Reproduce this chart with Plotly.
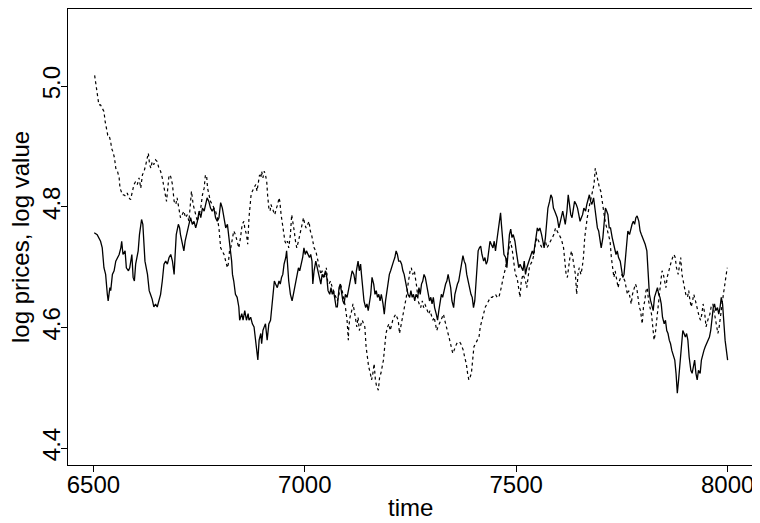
import plotly.graph_objects as go

# solid line: log prices
price_time = [
    6502, 6509, 6517, 6521, 6525, 6529, 6533, 6535, 6539, 6541, 6545, 6549, 6553, 6557, 6561, 6565,
    6567, 6570, 6575, 6578, 6583, 6586, 6588, 6591, 6594, 6597, 6600, 6604, 6606, 6609, 6614, 6617,
    6620, 6622, 6628, 6632, 6635, 6639, 6643, 6647, 6651, 6655, 6659, 6663, 6667, 6671, 6675, 6679,
    6683, 6687, 6691, 6693, 6696, 6701, 6704, 6706, 6710, 6714, 6717, 6720, 6722, 6726, 6730, 6734,
    6738, 6742, 6746, 6750, 6754, 6758, 6762, 6765, 6769, 6773, 6777, 6781, 6785, 6789, 6793, 6797,
    6801, 6805, 6809, 6813, 6817, 6821, 6825, 6827, 6829, 6832, 6836, 6840, 6844, 6846, 6851, 6854,
    6858, 6862, 6866, 6868, 6872, 6876, 6880, 6882, 6885, 6889, 6892, 6896, 6898, 6901, 6904, 6907,
    6911, 6915, 6919, 6922, 6925, 6928, 6931, 6935, 6939, 6942, 6945, 6948, 6951, 6955, 6957, 6959,
    6962, 6966, 6970, 6973, 6976, 6979, 6982, 6985, 6988, 6992, 6995, 6998, 7001, 7004, 7007, 7011,
    7014, 7017, 7019, 7022, 7026, 7029, 7032, 7035, 7038, 7041, 7045, 7049, 7052, 7055, 7059, 7062,
    7065, 7068, 7071, 7074, 7077, 7081, 7084, 7087, 7090, 7093, 7096, 7100, 7103, 7106,
    7108, 7112, 7116, 7120, 7122, 7126, 7129, 7132, 7134, 7137, 7140, 7144, 7147, 7150, 7153, 7156,
    7159, 7163, 7166, 7169, 7172, 7175, 7178, 7181, 7185, 7188, 7191, 7194, 7197, 7200, 7203, 7207,
    7210, 7213, 7216, 7219, 7222, 7226, 7229, 7232, 7235, 7238, 7241, 7244, 7248, 7251, 7254, 7257,
    7260, 7263, 7267, 7270, 7273, 7276, 7279, 7282, 7285, 7289, 7292, 7295, 7298, 7301, 7304, 7307,
    7311, 7314, 7317, 7320, 7323, 7326, 7330, 7333, 7336, 7339, 7342, 7345, 7348, 7352, 7355, 7358,
    7361, 7364, 7367, 7371, 7374, 7377, 7380, 7383, 7386, 7389, 7393, 7396, 7399, 7402,
    7407, 7410, 7413, 7416, 7419, 7423, 7426, 7429, 7432, 7435, 7438, 7441, 7445, 7448, 7451, 7454,
    7457, 7460, 7463, 7465, 7468, 7471, 7475, 7478, 7481, 7484, 7487, 7490, 7493, 7497, 7500, 7503,
    7506, 7509, 7512, 7516, 7519, 7522, 7525, 7528, 7531, 7534, 7538, 7541, 7544, 7547, 7550, 7553,
    7556, 7560, 7563, 7566, 7569, 7572, 7575, 7579, 7582, 7585, 7588, 7591, 7594, 7597, 7601, 7604,
    7607, 7610, 7613, 7616, 7620, 7623, 7626, 7629, 7632, 7635, 7638, 7642, 7645, 7648, 7651, 7654,
    7657, 7660, 7664, 7667, 7670, 7673, 7676, 7679, 7683, 7686, 7689, 7692, 7695, 7698, 7701, 7705,
    7708, 7711, 7714, 7717, 7720,
    7723, 7727, 7730, 7733, 7736, 7739, 7742, 7746, 7749, 7752, 7755, 7758, 7761, 7764, 7768, 7771,
    7774, 7777, 7780, 7783, 7786, 7790, 7793, 7796, 7799, 7802, 7805, 7809, 7812, 7815, 7818, 7821,
    7824, 7827, 7831, 7834, 7837, 7840, 7843, 7846, 7850, 7853, 7856, 7859, 7862, 7865, 7868, 7872,
    7875, 7878, 7881, 7884, 7887, 7890, 7894, 7897, 7900, 7903, 7906, 7909, 7913, 7916, 7919, 7922,
    7925, 7928, 7931, 7935, 7938, 7941, 7944, 7947, 7950, 7953, 7957, 7960, 7963, 7966, 7969, 7972,
    7976, 7979, 7982, 7985, 7988, 7991, 7994, 7998, 8000,
]
log_price = [
    4.757, 4.754, 4.743, 4.732, 4.699, 4.688, 4.655, 4.644, 4.666, 4.661, 4.688, 4.694, 4.710, 4.716, 4.721, 4.732,
    4.743, 4.721, 4.727, 4.699, 4.694, 4.699, 4.710, 4.721, 4.683, 4.677, 4.705, 4.721, 4.727, 4.754, 4.779, 4.771,
    4.743, 4.710, 4.688, 4.661, 4.655, 4.647, 4.634, 4.639, 4.634, 4.644, 4.655, 4.677, 4.705, 4.710, 4.705, 4.716,
    4.721, 4.710, 4.688, 4.716, 4.754, 4.771, 4.765, 4.754, 4.738, 4.727, 4.743, 4.754, 4.760, 4.771, 4.782, 4.771,
    4.776, 4.765, 4.776, 4.793, 4.782, 4.798, 4.793, 4.804, 4.815, 4.809, 4.798, 4.793, 4.798, 4.782, 4.776, 4.782,
    4.807, 4.798, 4.782, 4.765, 4.771, 4.749, 4.727, 4.710, 4.688, 4.677, 4.655, 4.650, 4.634, 4.612, 4.623, 4.612,
    4.628, 4.612, 4.623, 4.612, 4.617, 4.606, 4.601, 4.590, 4.568, 4.546, 4.579, 4.590, 4.573, 4.595, 4.601, 4.606,
    4.579, 4.606, 4.612, 4.634, 4.666, 4.677, 4.672, 4.666, 4.677, 4.672, 4.683, 4.688, 4.705, 4.716, 4.727, 4.705,
    4.677, 4.655, 4.644, 4.655, 4.666, 4.672, 4.688, 4.699, 4.694, 4.705, 4.716, 4.732, 4.721, 4.727, 4.721, 4.716,
    4.721, 4.710, 4.672, 4.694, 4.710, 4.699, 4.688, 4.677, 4.672, 4.688, 4.683, 4.694, 4.683, 4.661, 4.655, 4.666,
    4.655, 4.661, 4.650, 4.634, 4.634, 4.666, 4.672, 4.655, 4.644, 4.639, 4.655, 4.650, 4.661, 4.666,
    4.677, 4.694, 4.688, 4.672, 4.694, 4.710, 4.694, 4.705, 4.688, 4.666, 4.644, 4.633, 4.639, 4.628, 4.644, 4.655,
    4.683, 4.672, 4.655, 4.661, 4.650, 4.655, 4.644, 4.655, 4.639, 4.622, 4.644, 4.661, 4.677, 4.688, 4.694, 4.705,
    4.710, 4.716, 4.727, 4.721, 4.710, 4.710, 4.705, 4.694, 4.688, 4.677, 4.666, 4.655, 4.650, 4.661, 4.650, 4.655,
    4.644, 4.655, 4.650, 4.666, 4.655, 4.672, 4.677, 4.688, 4.683, 4.666, 4.655, 4.644, 4.650, 4.639, 4.650, 4.633,
    4.622, 4.612, 4.628, 4.644, 4.655, 4.650, 4.666, 4.672, 4.677, 4.688, 4.677, 4.666, 4.644, 4.633, 4.655, 4.666,
    4.672, 4.677, 4.688, 4.705, 4.719, 4.710, 4.705, 4.688, 4.677, 4.666, 4.655, 4.650, 4.633, 4.644,
    4.688, 4.727, 4.732, 4.735, 4.721, 4.710, 4.716, 4.705, 4.710, 4.727, 4.743, 4.738, 4.732, 4.743, 4.727, 4.743,
    4.760, 4.782, 4.790, 4.771, 4.743, 4.721, 4.716, 4.699, 4.727, 4.754, 4.763, 4.749, 4.754, 4.743, 4.727, 4.710,
    4.699, 4.705, 4.699, 4.694, 4.710, 4.688, 4.699, 4.705, 4.710, 4.716, 4.727, 4.721, 4.738, 4.749, 4.765, 4.760,
    4.765, 4.754, 4.743, 4.732, 4.749, 4.776, 4.798, 4.809, 4.820, 4.815, 4.798, 4.793, 4.787, 4.782, 4.765, 4.776,
    4.787, 4.793, 4.782, 4.771, 4.793, 4.820, 4.804, 4.787, 4.782, 4.793, 4.809, 4.804, 4.798, 4.787, 4.776, 4.782,
    4.787, 4.798, 4.793, 4.804, 4.815, 4.820, 4.809, 4.804, 4.815, 4.798, 4.782, 4.765, 4.760, 4.743, 4.732, 4.749,
    4.782, 4.798, 4.793, 4.787, 4.765,
    4.765, 4.749, 4.738, 4.732, 4.721, 4.727, 4.716, 4.710, 4.694, 4.683, 4.688, 4.716, 4.743, 4.760, 4.754, 4.765,
    4.771, 4.776, 4.771, 4.782, 4.785, 4.776, 4.760, 4.754, 4.749, 4.743, 4.738, 4.727, 4.694, 4.655, 4.644, 4.634,
    4.628, 4.650, 4.661, 4.666, 4.655, 4.650, 4.639, 4.617, 4.606, 4.612, 4.595, 4.590, 4.579, 4.573, 4.562, 4.551,
    4.546, 4.524, 4.491, 4.513, 4.535, 4.568, 4.595, 4.590, 4.584, 4.590, 4.579, 4.551, 4.529, 4.524, 4.535, 4.546,
    4.524, 4.513, 4.529, 4.524, 4.546, 4.557, 4.562, 4.568, 4.573, 4.579, 4.584, 4.595, 4.612, 4.633, 4.639, 4.628,
    4.633, 4.622, 4.633, 4.650, 4.639, 4.601, 4.579, 4.557, 4.546,
]

# dashed line: log value
value_time = [
    6503, 6505, 6508, 6510, 6513, 6517, 6521, 6525, 6528, 6531, 6534, 6537, 6541, 6543, 6546, 6550,
    6553, 6557, 6561, 6563, 6566, 6569, 6572, 6576, 6580, 6584, 6588, 6592, 6596, 6600, 6604, 6608,
    6612, 6616, 6620, 6624, 6628, 6630, 6633, 6636, 6639, 6643, 6647, 6651, 6655, 6659, 6663, 6667,
    6671, 6673, 6676, 6679, 6683, 6687, 6691, 6695, 6698, 6702, 6706, 6710, 6714, 6718, 6722, 6726,
    6730, 6732, 6736, 6739, 6742, 6746, 6750, 6754, 6758, 6762, 6765, 6768, 6770, 6773, 6777, 6781,
    6785, 6789, 6793, 6797,
    6801, 6805, 6809, 6813, 6817, 6819, 6822, 6825, 6829, 6832, 6836, 6840, 6844, 6848, 6852, 6856,
    6858, 6862, 6865, 6868, 6870, 6873, 6876, 6880, 6884, 6887, 6890, 6893, 6896, 6898, 6901, 6904,
    6907, 6910, 6912, 6915, 6918, 6920, 6923, 6926, 6929, 6933, 6936, 6939, 6941, 6944, 6947, 6950,
    6953, 6956, 6959, 6962, 6966, 6969, 6972, 6975, 6978, 6981, 6985, 6988, 6991, 6994, 6997, 7000,
    7003, 7007, 7010, 7013, 7016, 7019, 7022, 7026, 7029, 7032, 7035, 7038, 7041, 7044, 7048, 7051,
    7054, 7057, 7061, 7065, 7068, 7071, 7074, 7077, 7081, 7084, 7087, 7090, 7093, 7096, 7100, 7103,
    7104, 7107, 7111, 7114, 7117, 7120, 7123, 7126, 7129, 7133, 7136, 7139, 7142, 7145, 7148, 7151,
    7155, 7158, 7161, 7164, 7167, 7170, 7174, 7177, 7180, 7183, 7186, 7189, 7192, 7196, 7199, 7202,
    7205, 7208, 7211, 7215, 7218, 7221, 7224, 7227, 7230, 7233, 7237, 7240, 7243, 7246, 7249, 7252,
    7255, 7259, 7262, 7265, 7268, 7271, 7274, 7278, 7281, 7284, 7287, 7290, 7293, 7296, 7300, 7303,
    7306, 7309, 7312, 7315, 7319, 7322, 7325, 7328, 7331, 7334, 7337, 7341, 7344, 7347, 7350, 7353,
    7356, 7359, 7363, 7366, 7369, 7372, 7375, 7378, 7382, 7385, 7388, 7391, 7394, 7397, 7400,
    7408, 7412, 7415, 7419, 7423, 7427, 7431, 7435, 7439, 7443, 7447, 7451, 7455, 7459, 7463, 7467,
    7471, 7475, 7478, 7482, 7486, 7490, 7494, 7498, 7502, 7506, 7509, 7512, 7516, 7519, 7522, 7525,
    7528, 7531, 7534, 7538, 7542, 7545, 7549, 7553, 7557, 7561, 7565, 7569, 7573, 7577, 7581, 7585,
    7589, 7593, 7597, 7601, 7605, 7608, 7612, 7615, 7618, 7621, 7624, 7627, 7631, 7634, 7637, 7640,
    7643, 7646, 7649, 7653, 7656, 7659, 7662, 7665, 7668, 7672, 7675, 7678, 7681, 7684, 7687, 7690,
    7694, 7697, 7700, 7703, 7706, 7709, 7712, 7716, 7719,
    7722, 7725, 7728, 7731, 7734, 7738, 7741, 7744, 7747, 7750, 7753, 7757, 7760, 7763, 7766, 7769,
    7772, 7775, 7779, 7782, 7785, 7788, 7791, 7794, 7798, 7801, 7804, 7807, 7810, 7813, 7816, 7820,
    7823, 7826, 7829, 7832, 7835, 7838, 7842, 7845, 7848, 7851, 7854, 7857, 7861, 7864, 7867, 7870,
    7873, 7876, 7879, 7883, 7886, 7889, 7892, 7895, 7898, 7901, 7905, 7908, 7911, 7914, 7917, 7920,
    7924, 7927, 7930, 7933, 7936, 7939, 7942, 7946, 7949, 7952, 7955, 7958, 7961, 7965, 7968, 7971,
    7974, 7977, 7980, 7983, 7987, 7990, 7993, 7996, 7999,
]
log_value = [
    5.018, 5.007, 4.991, 4.985, 4.969, 4.969, 4.963, 4.958, 4.941, 4.930, 4.919, 4.919, 4.908, 4.897, 4.892, 4.881,
    4.864, 4.859, 4.848, 4.831, 4.826, 4.820, 4.820, 4.818, 4.823, 4.815, 4.812, 4.826, 4.837, 4.842, 4.837, 4.848,
    4.831, 4.853, 4.859, 4.870, 4.881, 4.889, 4.870, 4.864, 4.875, 4.870, 4.878, 4.875, 4.864, 4.859, 4.848, 4.831,
    4.815, 4.809, 4.831, 4.853, 4.850, 4.837, 4.809, 4.804, 4.815, 4.798, 4.782, 4.787, 4.793, 4.782, 4.787, 4.776,
    4.815, 4.826, 4.804, 4.793, 4.787, 4.776, 4.787, 4.798, 4.820, 4.831, 4.853, 4.850, 4.831, 4.820, 4.809, 4.804,
    4.798, 4.793, 4.782, 4.765,
    4.732, 4.727, 4.721, 4.710, 4.699, 4.705, 4.727, 4.732, 4.749, 4.760, 4.754, 4.743, 4.732, 4.749, 4.771, 4.776,
    4.765, 4.754, 4.738, 4.782, 4.798, 4.820, 4.826, 4.831, 4.837, 4.826, 4.842, 4.853, 4.848, 4.859, 4.848, 4.859,
    4.853, 4.842, 4.820, 4.798, 4.793, 4.804, 4.798, 4.793, 4.787, 4.798, 4.804, 4.815, 4.809, 4.787, 4.771, 4.754,
    4.743, 4.738, 4.743, 4.732, 4.754, 4.787, 4.776, 4.760, 4.743, 4.732, 4.743, 4.754, 4.760, 4.771, 4.782, 4.771,
    4.765, 4.771, 4.776, 4.760, 4.754, 4.743, 4.732, 4.727, 4.716, 4.705, 4.699, 4.688, 4.694, 4.688, 4.683, 4.699,
    4.677, 4.672, 4.677, 4.666, 4.661, 4.655, 4.650, 4.644, 4.655, 4.672, 4.666, 4.655, 4.650, 4.634, 4.612, 4.579,
    4.601, 4.617, 4.628, 4.639, 4.628, 4.612, 4.601, 4.617, 4.595, 4.606, 4.612, 4.606, 4.601, 4.568, 4.546, 4.535,
    4.524, 4.513, 4.524, 4.540, 4.513, 4.502, 4.496, 4.518, 4.524, 4.535, 4.546, 4.568, 4.590, 4.601, 4.606, 4.595,
    4.606, 4.612, 4.617, 4.622, 4.617, 4.612, 4.590, 4.601, 4.612, 4.622, 4.633, 4.650, 4.666, 4.683, 4.694, 4.699,
    4.688, 4.694, 4.683, 4.666, 4.644, 4.639, 4.633, 4.644, 4.633, 4.639, 4.633, 4.628, 4.622, 4.628, 4.617, 4.612,
    4.617, 4.606, 4.595, 4.601, 4.606, 4.612, 4.617, 4.622, 4.612, 4.601, 4.595, 4.584, 4.573, 4.562, 4.557, 4.562,
    4.568, 4.573, 4.576, 4.576, 4.573, 4.568, 4.562, 4.551, 4.540, 4.524, 4.513, 4.518, 4.524, 4.546, 4.568,
    4.579, 4.584, 4.601, 4.611, 4.622, 4.634, 4.639, 4.644, 4.650, 4.650, 4.653, 4.655, 4.650, 4.650, 4.661, 4.677,
    4.688, 4.699, 4.716, 4.727, 4.743, 4.732, 4.710, 4.688, 4.683, 4.666, 4.650, 4.677, 4.688, 4.683, 4.677, 4.666,
    4.688, 4.699, 4.705, 4.710, 4.721, 4.738, 4.749, 4.743, 4.738, 4.732, 4.738, 4.743, 4.732, 4.738, 4.743, 4.749,
    4.754, 4.765, 4.760, 4.754, 4.749, 4.743, 4.732, 4.710, 4.688, 4.683, 4.699, 4.716, 4.727, 4.716, 4.699, 4.688,
    4.655, 4.688, 4.699, 4.688, 4.699, 4.716, 4.749, 4.771, 4.782, 4.798, 4.809, 4.820, 4.826, 4.837, 4.864, 4.853,
    4.842, 4.831, 4.826, 4.809, 4.798, 4.782, 4.771, 4.760, 4.754,
    4.743, 4.716, 4.699, 4.683, 4.694, 4.677, 4.666, 4.677, 4.683, 4.688, 4.683, 4.677, 4.666, 4.655, 4.661, 4.650,
    4.639, 4.655, 4.666, 4.672, 4.666, 4.650, 4.634, 4.628, 4.606, 4.634, 4.644, 4.661, 4.666, 4.644, 4.634, 4.622,
    4.601, 4.579, 4.590, 4.612, 4.628, 4.644, 4.677, 4.694, 4.688, 4.677, 4.666, 4.683, 4.694, 4.705, 4.710, 4.716,
    4.721, 4.716, 4.699, 4.688, 4.705, 4.716, 4.688, 4.677, 4.666, 4.655, 4.650, 4.661, 4.644, 4.634, 4.644, 4.655,
    4.644, 4.634, 4.622, 4.617, 4.612, 4.622, 4.639, 4.622, 4.601, 4.612, 4.617, 4.622, 4.634, 4.639, 4.628, 4.617,
    4.601, 4.590, 4.601, 4.622, 4.639, 4.655, 4.672, 4.688, 4.699,
]

x_ticks = [6500, 7000, 7500, 8000]
y_ticks = [4.4, 4.6, 4.8, 5.0]

font_family = "Liberation Sans, Arial, sans-serif"

fig = go.Figure()
fig.add_trace(
    go.Scatter(
        x=price_time,
        y=log_price,
        mode="lines",
        name="log prices",
        line={"color": "black", "width": 1.3},
    )
)
fig.add_trace(
    go.Scatter(
        x=value_time,
        y=log_value,
        mode="lines",
        name="log value",
        line={"color": "black", "width": 1.2, "dash": "3px,3px"},
    )
)

axis_common = {
    "showgrid": False,
    "zeroline": False,
    "showline": True,
    "mirror": True,
    "linecolor": "black",
    "linewidth": 1,
    "ticks": "outside",
    "ticklen": 6,
    "tickwidth": 1,
    "tickcolor": "black",
    "tickfont": {"family": font_family, "size": 24, "color": "black"},
}

# the page body adds an 8px offset, so the figure is 8px smaller than the window
fig.update_layout(
    width=752,
    height=515,
    margin={"l": 60, "r": 7, "t": 1, "b": 58},
    paper_bgcolor="white",
    plot_bgcolor="white",
    showlegend=False,
    xaxis={
        **axis_common,
        "range": [6440, 8060],
        "tickvals": x_ticks,
        "ticklabelstandoff": -8,
    },
    yaxis={
        **axis_common,
        "range": [4.372, 5.128],
        "tickvals": y_ticks,
        "tickformat": ".1f",
        "tickangle": -90,
        "ticklabelstandoff": -9,
    },
    annotations=[
        {
            "text": "time",
            "xref": "paper",
            "yref": "paper",
            "x": 0.5,
            "y": -0.127,
            "showarrow": False,
            "xanchor": "center",
            "yanchor": "bottom",
            "font": {"family": font_family, "size": 24, "color": "black"},
        },
        {
            "text": "log prices, log value",
            "xref": "paper",
            "yref": "paper",
            "x": -0.07,
            "y": 0.5,
            "textangle": -90,
            "showarrow": False,
            "xanchor": "center",
            "yanchor": "middle",
            "font": {"family": font_family, "size": 24, "color": "black"},
        },
    ],
)

fig.write_html("out.html")
